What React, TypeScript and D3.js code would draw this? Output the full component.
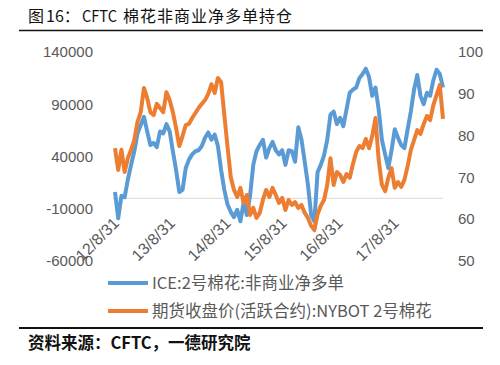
import * as d3 from "d3";

// ICE No.2 cotton, non-commercial net long (contracts), every 3 weeks from 2012-08-17
const netLong = [
  6000, -19000, 2500, 1000, 18000, 32000, 45000, 62000, 70000, 78000,
  64000, 51000, 53000, 49000, 64000, 62000, 71000, 64000, 45000, 27000,
  6000, 8000, 29000, 37000, 42000, 45000, 46000, 50000, 58000, 63000,
  56000, 61000, 50000, 27000, 8000, -6000, -13000, -18000, -11000, -22000,
  -4000, -16000, 2500, 32000, 45000, 51000, 56000, 39000, 48000, 54000,
  46000, 42000, 46000, 32000, 46000, 45000, 35000, 68000, 56000, 35000,
  13000, -16000, -22000, 25000, 32000, 41000, 56000, 80000, 83000, 71000,
  77000, 69000, 85000, 101000, 104000, 106000, 115000, 119000, 124000, 116000,
  98000, 106000, 85000, 56000, 42000, 29000, 46000, 66000, 58000, 51000,
  48000, 66000, 83000, 104000, 118000, 98000, 90000, 101000, 98000, 113000,
  123000, 119000, 106000,
];

// NYBOT No.2 cotton, active contract close (cents/lb)
const price = [
  77.0, 71.8, 76.6, 71.3, 74.6, 76.6, 78.9, 83.3, 85.6, 91.4,
  89.0, 85.6, 84.9, 87.6, 86.6, 85.6, 90.4, 88.5, 85.6, 81.8,
  77.5, 79.9, 82.5, 82.8, 84.2, 85.4, 86.6, 87.6, 88.5, 90.0,
  92.3, 90.2, 93.8, 92.8, 84.9, 77.3, 70.1, 67.0, 65.3, 67.5,
  63.9, 65.8, 61.0, 62.7, 60.3, 61.5, 64.6, 67.0, 65.3, 67.5,
  65.8, 63.9, 65.1, 62.2, 64.6, 63.4, 64.1, 62.7, 63.4, 61.5,
  60.3, 58.4, 57.4, 61.2, 63.2, 64.6, 68.2, 74.6, 68.2, 71.3,
  70.6, 68.9, 70.8, 69.9, 73.2, 76.1, 77.5, 77.0, 79.2, 77.0,
  79.9, 84.2, 74.2, 68.2, 66.7, 69.9, 72.2, 67.5, 68.9, 67.7,
  69.4, 72.7, 76.6, 78.9, 81.3, 80.4, 82.8, 84.7, 83.7, 87.3,
  89.7, 92.1, 84.0,
];

const leftTicks = [140000, 90000, 40000, -10000, -60000];
const rightTicks = [100, 90, 80, 70, 60, 50];
const xTickLabels = ["12/8/31", "13/8/31", "14/8/31", "15/8/31", "16/8/31", "17/8/31"];
const xTickDates = [2012, 2013, 2014, 2015, 2016, 2017].map((y) => new Date(y, 7, 31));

const seriesNames = ["ICE:2号棉花:非商业净多单", "期货收盘价(活跃合约):NYBOT 2号棉花"];
const BLUE = "#5B9BD5";
const ORANGE = "#ED7D31";

const startDate = new Date(2012, 7, 17);
const dates = netLong.map((_, i) => d3.timeDay.offset(startDate, i * 21));

const AXIS_FONT = "'Liberation Sans', Arial, sans-serif";
const CJK_FONT = "'Noto Sans CJK SC', 'Noto Sans', sans-serif";

export default function App() {
  const top = 52;
  const bottom = 261;
  const x = d3
    .scaleTime()
    .domain([dates[0], dates[dates.length - 1]])
    .range([115, 443]);
  const yL = d3.scaleLinear().domain([-60000, 140000]).range([bottom, top]);
  const yR = d3.scaleLinear().domain([50, 100]).range([bottom, top]);

  const blueLine = d3
    .line<number>()
    .x((_, i) => x(dates[i]))
    .y((d) => yL(d))(netLong);
  const orangeLine = d3
    .line<number>()
    .x((_, i) => x(dates[i]))
    .y((d) => yR(d))(price);

  return (
    <svg
      width={500}
      height={365}
      style={{ position: "absolute", left: 0, top: 0, background: "#fff" }}
    >
      <text y={22} fontFamily={CJK_FONT} fontSize={16} fontWeight={400} fill="#111">
        <tspan x={28}>图</tspan>
        <tspan x={46}>16：</tspan>
        <tspan x={82} textLength={35} lengthAdjust="spacingAndGlyphs">CFTC</tspan>
        <tspan x={123} letterSpacing={1}>棉花非商业净多单持仓</tspan>
      </text>
      <line x1={19} x2={483} y1={30.5} y2={30.5} stroke="#111" strokeWidth={1.4} />

      {/* left axis labels */}
      {leftTicks.map((t) => (
        <text
          key={t}
          x={93}
          y={yL(t)}
          dy="0.35em"
          textAnchor="end"
          fontFamily={AXIS_FONT}
          fontSize={15}
          fill="#595959"
        >
          {t}
        </text>
      ))}
      {/* right axis labels */}
      {rightTicks.map((t) => (
        <text
          key={t}
          x={458}
          y={yR(t)}
          dy="0.35em"
          textAnchor="start"
          fontFamily={AXIS_FONT}
          fontSize={15}
          fill="#595959"
        >
          {t}
        </text>
      ))}

      {/* zero line */}
      <line x1={113} x2={443} y1={yL(0)} y2={yL(0)} stroke="#D9D9D9" strokeWidth={1} />

      {/* x labels */}
      {xTickDates.map((d, i) => (
        <text
          key={xTickLabels[i]}
          transform={`translate(${x(d) - 1},${yL(0) + 22}) rotate(-45)`}
          textAnchor="end"
          dy="0.35em"
          fontFamily={AXIS_FONT}
          fontSize={16}
          fill="#595959"
        >
          {xTickLabels[i]}
        </text>
      ))}

      <path d={blueLine ?? ""} fill="none" stroke={BLUE} strokeWidth={4} strokeLinejoin="round" />
      <path d={orangeLine ?? ""} fill="none" stroke={ORANGE} strokeWidth={4} strokeLinejoin="round" />

      {/* legend */}
      {seriesNames.map((name, i) => (
        <g key={name} transform={`translate(0,${283 + i * 28})`}>
          <line x1={108} x2={148} y1={0} y2={0} stroke={i === 0 ? BLUE : ORANGE} strokeWidth={4} />
          <text
            x={152}
            y={0}
            dy="0.35em"
            fontFamily={CJK_FONT}
            fontSize={16.5}
            fill="#595959"
          >
            {name}
          </text>
        </g>
      ))}

      <line x1={19} x2={483} y1={328} y2={328} stroke="#111" strokeWidth={2} />
      <text
        x={28}
        y={343}
        dy="0.35em"
        fontFamily={CJK_FONT}
        fontSize={16.5}
        fontWeight={700}
        fill="#111"
      >
        资料来源：CFTC，一德研究院
      </text>
    </svg>
  );
}
